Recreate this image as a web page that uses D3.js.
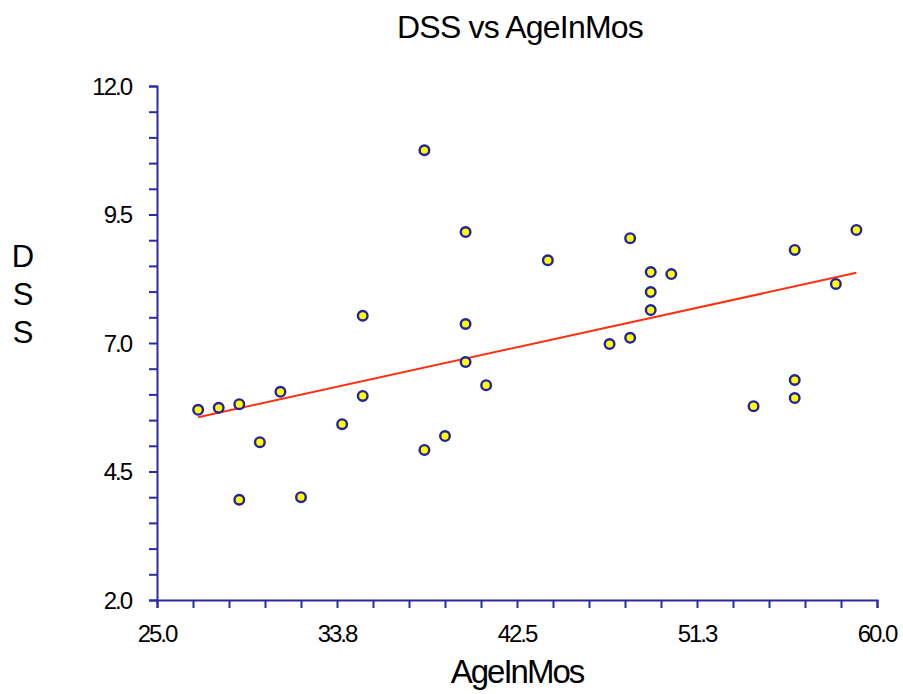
<!DOCTYPE html>
<html>
<head>
<meta charset="utf-8">
<script src="https://cdn.jsdelivr.net/npm/d3@7"></script>
<style>
  body { margin: 0; background: #fff; }
  text { font-family: "Liberation Sans", Arial, sans-serif; fill: #000; }
</style>
</head>
<body>
<div id="chart"></div>
<script>
// data
const ageInMos = [27, 28, 29, 30, 29, 31, 32, 34, 35, 35, 38, 38, 39, 40, 40, 40,
                  41, 44, 47, 48, 48, 49, 49, 49, 50, 54, 56, 56, 56, 58, 59]
const dss = [5.70, 5.74, 5.81, 5.07, 3.95, 6.05, 4.00, 5.42, 7.53, 5.97, 10.75, 4.92, 5.19, 9.16, 7.37, 6.63,
             6.18, 8.61, 6.98, 9.04, 7.10, 8.38, 7.99, 7.64, 8.34, 5.77, 8.81, 6.28, 5.93, 8.15, 9.20]

const xMajor = [25, 33.75, 42.5, 51.25, 60]
const xTickLabels = ['25.0', '33.8', '42.5', '51.3', '60.0']
const yMajor = [2, 4.5, 7, 9.5, 12]
const yTickLabels = ['2.0', '4.5', '7.0', '9.5', '12.0']

const W = 903, H = 694
const margins = {top: 86, right: 26, bottom: 94, left: 157}
const width = W - margins.left - margins.right
const height = H - margins.top - margins.bottom

const colors = {
    axis: '#2b2ba6',
    fill: '#ffff00',
    stroke: '#2222a0',
    line: '#ff3010'
}

const svg = d3.select('#chart').append('svg')
    .attr('width', W)
    .attr('height', H)

const g = svg.append('g')
    .attr('transform', `translate(${margins.left},${margins.top})`)

const x = d3.scaleLinear().domain([25, 60]).range([0, width])
const y = d3.scaleLinear().domain([2, 12]).range([height, 0])

// minor ticks: 5 per major step
const xMinor = d3.range(0, 21).map(i => 25 + i * 1.75)
const yMinor = d3.range(0, 21).map(i => 2 + i * 0.5)

const xAxis = g.append('g')
    .attr('transform', `translate(0,${height})`)
    .call(d3.axisBottom(x).tickValues(xMinor).tickSize(8).tickFormat(''))
const yAxis = g.append('g')
    .call(d3.axisLeft(y).tickValues(yMinor).tickSize(8).tickFormat(''))

;[xAxis, yAxis].forEach(a => {
    a.select('.domain').attr('stroke', colors.axis).attr('stroke-width', 2)
    a.selectAll('.tick line').attr('stroke', colors.axis).attr('stroke-width', 2)
})

// major labels
g.append('g').selectAll('text')
    .data(xMajor)
    .join('text')
    .attr('x', d => x(d))
    .attr('y', height + 42)
    .attr('text-anchor', 'middle')
    .attr('font-size', 24)
    .attr('letter-spacing', -2)
    .text((d, i) => xTickLabels[i])

g.append('g').selectAll('text')
    .data(yMajor)
    .join('text')
    .attr('x', -26)
    .attr('y', d => y(d) + 8.5)
    .attr('text-anchor', 'end')
    .attr('font-size', 24)
    .attr('letter-spacing', -2)
    .text((d, i) => yTickLabels[i])

// least squares line
const mx = d3.mean(ageInMos), my = d3.mean(dss)
let sxy = 0, sxx = 0
ageInMos.forEach((v, i) => {
    sxy += (v - mx) * (dss[i] - my)
    sxx += (v - mx) * (v - mx)
})
const slope = sxy / sxx
const icpt = my - slope * mx
const [x0, x1] = d3.extent(ageInMos)

g.append('path')
    .datum([x0, x1])
    .attr('d', d3.line().x(d => x(d)).y(d => y(icpt + slope * d)))
    .attr('fill', 'none')
    .attr('stroke', colors.line)
    .attr('stroke-width', 2)

g.append('g').selectAll('circle')
    .data(ageInMos)
    .join('circle')
    .attr('cx', d => x(d))
    .attr('cy', (d, i) => y(dss[i]))
    .attr('r', 4.8)
    .attr('fill', colors.fill)
    .attr('stroke', colors.stroke)
    .attr('stroke-width', 2.4)

// titles
svg.append('text')
    .attr('x', 520)
    .attr('y', 38)
    .attr('text-anchor', 'middle')
    .attr('font-size', 32)
    .attr('letter-spacing', -0.8)
    .text('DSS vs AgeInMos')

svg.append('text')
    .attr('x', 517)
    .attr('y', 683)
    .attr('text-anchor', 'middle')
    .attr('font-size', 33)
    .attr('letter-spacing', -2)
    .text('AgeInMos')

svg.append('g').selectAll('text')
    .data(['D', 'S', 'S'])
    .join('text')
    .attr('x', 23)
    .attr('y', (d, i) => 267 + i * 38)
    .attr('text-anchor', 'middle')
    .attr('font-size', 31)
    .text(d => d)
</script>
</body>
</html>
